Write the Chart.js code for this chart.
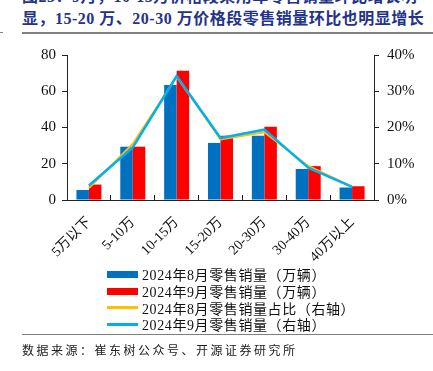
<!DOCTYPE html>
<html>
<head>
<meta charset="utf-8">
<script src="https://cdn.jsdelivr.net/npm/chart.js@4/dist/chart.umd.min.js"></script>
<style>
  html, body { margin: 0; padding: 0; background: #fff; }
  body { width: 433px; height: 371px; position: relative; overflow: hidden;
    font-family: 'Liberation Serif', 'Noto Sans CJK SC', serif; }
  .title { position: absolute; left: 22px; color: #24338a; font-weight: bold;
    font-size: 16px; white-space: nowrap; letter-spacing: 0.5px; }
  .rule { position: absolute; background: #7f7f7f; }
  #chartBox { position: absolute; left: 0; top: 38px; width: 433px; height: 228px; }
  #legend { position: absolute; left: 107px; top: 266px; }
  .item { display: flex; align-items: center; height: 16.7px; font-size: 14px; color: #111;
    white-space: nowrap; letter-spacing: 0.6px; }
  .swatch { width: 31px; margin-right: 4px; }
  .source { position: absolute; left: 22px; top: 341px; font-size: 12px; color: #222;
    letter-spacing: 2.5px; font-family: 'Noto Sans CJK SC', sans-serif; }
</style>
</head>
<body>
<div class="title" style="top:-17px">图23：9月，10-15万价格段乘用车零售销量环比增长明</div>
<div class="title" style="top:5px">显，15-20 万、20-30 万价格段零售销量环比也明显增长</div>
<div class="rule" style="left:22px; top:32px; width:411px; height:2px;"></div>
<div class="rule" style="left:0; top:32px; width:3px; height:1px;"></div>
<div id="chartBox"><canvas id="chart" width="433" height="228"></canvas></div>
<div id="legend"></div>
<div class="rule" style="left:22px; top:334px; width:411px; height:1px;"></div>
<div class="source">数据来源：崔东树公众号、开源证券研究所</div>
<script>
const categories = ['5万以下', '5-10万', '10-15万', '15-20万', '20-30万', '30-40万', '40万以上']
const augSales = [5.5, 29.4, 63.5, 31.5, 35.5, 17.1, 6.9]
const sepSales = [8.5, 29.4, 71.3, 35.5, 40.4, 18.7, 7.6]
const augShare = [3.3, 15.5, 34.0, 16.7, 18.7, 9.4, 3.7]
const sepShare = [4.0, 14.5, 34.2, 17.1, 19.4, 8.9, 3.6]
const seriesLabels = [
  '2024年8月零售销量（万辆）',
  '2024年9月零售销量（万辆）',
  '2024年8月零售销量占比（右轴）',
  '2024年9月零售销量（右轴）'
]
const seriesColors = ['#0070c0', '#ff0000', '#ffc000', '#00b0f0']

const tickFont = { family: "'Liberation Serif', 'Noto Sans CJK SC', serif", size: 15 }
const axisColor = '#222'

const legend = document.getElementById('legend')
seriesLabels.forEach((label, i) => {
  const row = document.createElement('div')
  row.className = 'item'
  const sw = document.createElement('div')
  sw.className = 'swatch'
  sw.style.height = i < 2 ? '7px' : '3px'
  sw.style.background = seriesColors[i]
  row.appendChild(sw)
  row.appendChild(document.createTextNode(label))
  legend.appendChild(row)
})

new Chart(document.getElementById('chart'), {
  data: {
    labels: categories,
    datasets: [
      { type: 'line', label: seriesLabels[3], data: sepShare, yAxisID: 'y2', borderColor: seriesColors[3],
        borderWidth: 2.5, pointRadius: 0, tension: 0, order: 0 },
      { type: 'line', label: seriesLabels[2], data: augShare, yAxisID: 'y2', borderColor: seriesColors[2],
        borderWidth: 2, pointRadius: 0, tension: 0, order: 1 },
      { type: 'bar', label: seriesLabels[0], data: augSales, yAxisID: 'y', backgroundColor: seriesColors[0],
        categoryPercentage: 0.57, barPercentage: 1, order: 2 },
      { type: 'bar', label: seriesLabels[1], data: sepSales, yAxisID: 'y', backgroundColor: seriesColors[1],
        categoryPercentage: 0.57, barPercentage: 1, order: 3 }
    ]
  },
  options: {
    responsive: false,
    animation: false,
    devicePixelRatio: 1,
    layout: { padding: { top: 15 } },
    plugins: { legend: { display: false }, tooltip: { enabled: false } },
    scales: {
      x: {
        offset: true,
        grid: { offset: true, drawOnChartArea: false, drawTicks: true, tickLength: -5, color: axisColor },
        border: { color: axisColor, width: 1 },
        ticks: { color: '#111', font: { ...tickFont, size: 14 }, maxRotation: 45, minRotation: 45, padding: 19 },
        afterFit: (scale) => { scale.height = 66 }
      },
      y: {
        position: 'left', min: 0, max: 80,
        grid: { drawOnChartArea: false, tickLength: 5, color: axisColor },
        border: { color: axisColor, width: 1 },
        ticks: { stepSize: 20, color: '#111', font: tickFont, padding: 6 },
        afterFit: (scale) => { scale.width = 67 }
      },
      y2: {
        position: 'right', min: 0, max: 40,
        grid: { drawOnChartArea: false, tickLength: 5, color: axisColor },
        border: { color: axisColor, width: 1 },
        ticks: { stepSize: 10, color: '#111', font: tickFont, padding: 8, callback: (v) => `${v}%` },
        afterFit: (scale) => { scale.width = 59 }
      }
    }
  }
})
</script>
</body>
</html>
